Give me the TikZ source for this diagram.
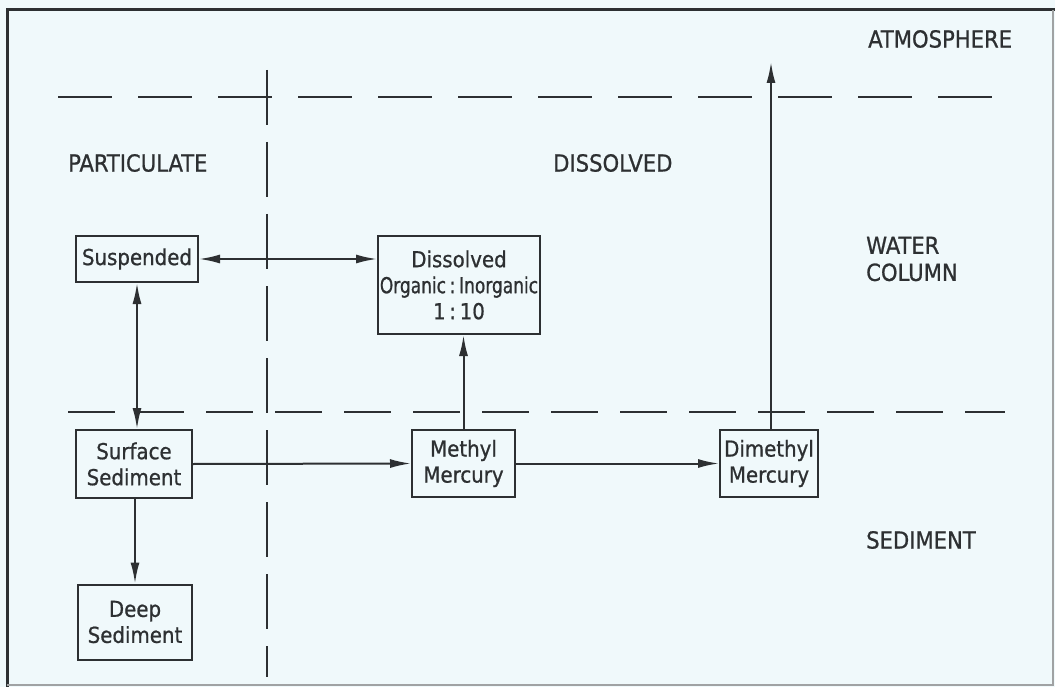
\documentclass[tikz,border=0pt]{standalone}
\usepackage{fontspec}
\setmainfont[FakeBold=0.8]{DejaVu Sans Condensed}
\newfontfamily\narrowfont[FakeStretch=0.86,FakeBold=0.8]{DejaVu Sans Condensed}
\usetikzlibrary{arrows.meta}
\definecolor{bgc}{RGB}{240,249,251}
\definecolor{ink}{RGB}{45,48,50}
\begin{document}
\begin{tikzpicture}[x=1pt,y=-1pt,
  box/.style={draw=ink,line width=2pt,fill=none,align=center,inner sep=0pt,
     font=\fontsize{22}{26}\selectfont,text=ink},
  lbl/.style={font=\fontsize{23.5}{27}\selectfont,text=ink,align=left,inner sep=0pt},
  arr/.style={draw=ink,line width=2pt,-{Latex[length=21pt,width=9pt]}},
  darr/.style={draw=ink,line width=2pt,{Latex[length=21pt,width=9pt]}-{Latex[length=21pt,width=9pt]}},
  bound/.style={draw=ink,line width=2.4pt,dash pattern=on 54pt off 26pt},
  bound2/.style={draw=ink,line width=2.4pt,dash pattern=on 47pt off 22pt},
  vbound/.style={draw=ink,line width=2.2pt,dash pattern=on 55pt off 17pt}]
\fill[bgc] (0,0) rectangle (1055,687);
\useasboundingbox (0,0) rectangle (1055,687);
% frame
\draw[ink,line width=3pt] (7,687) -- (7,10) -- (1055,10);
\draw[ink!45,line width=1.5pt] (7,685) -- (1053,685) -- (1053,10);
% boundaries
\draw[bound] (58,97) -- (1004,97);
\draw[bound2] (68,412) -- (1005,412);
\draw[vbound] (267,70) -- (267,677);
% labels
\node[lbl,anchor=west] (atm) at (868,39) {ATMOSPHERE};
\node[lbl,anchor=west] (part) at (68,163) {PARTICULATE};
\node[lbl,anchor=west] (dis) at (553,163) {DISSOLVED};
\node[lbl,anchor=west] (wat) at (866,259) {WATER\\COLUMN};
\node[lbl,anchor=west] (sed) at (866,540) {SEDIMENT};
% boxes
\node[box,minimum width=122pt,minimum height=46pt] (susp) at (137,259) {Suspended};
\node[box,minimum width=162pt,minimum height=98pt] (diss) at (459,285) {Dissolved\\{\narrowfont Organic\,:\,Inorganic}\\1\,:\,10};
\node[box,minimum width=116pt,minimum height=68pt] (surf) at (134,464) {Surface\\Sediment};
\node[box,minimum width=103pt,minimum height=67pt] (meth) at (463.5,463.5) {Methyl\\Mercury};
\node[box,minimum width=98pt,minimum height=67pt] (dimeth) at (769,463.5) {Dimethyl\\Mercury};
\node[box,minimum width=114pt,minimum height=75pt] (deep) at (135,622) {Deep\\Sediment};
\coordinate (top) at (771,62);
% connectors
\draw[darr] (susp.east) -- (susp.east -| diss.west);
\draw[darr] (susp.south) -- (susp.south |- surf.north);
\draw[arr] (surf.east) -- (meth.west);
\draw[arr] (meth.east) -- (dimeth.west);
\draw[arr] (meth.north) -- (meth.north |- diss.south);
\draw[arr] (dimeth.north -| top) -- (top);
\draw[arr] (surf.south -| deep.north) -- (deep.north);
\end{tikzpicture}
\end{document}
